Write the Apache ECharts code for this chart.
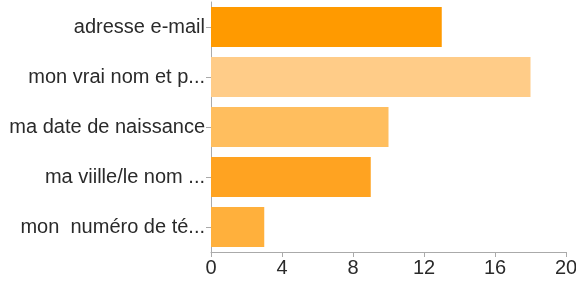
<!DOCTYPE html>
<html lang="en">
<head>
    <meta charset="UTF-8">
    <title>Informations partagées</title>
    <script src="https://cdn.jsdelivr.net/npm/echarts@6.0.0/dist/echarts.min.js"></script>
    <style>
        * { margin: 0; padding: 0; box-sizing: border-box; }
        body { background: #fff; }
        #chart { width: 576px; height: 282px; }
    </style>
</head>
<body>
    <div id="chart"></div>
    <script>
        // categories top to bottom
        const categories = [
            'adresse e-mail',
            'mon vrai nom et p...',
            'ma date de naissance',
            'ma viille/le nom ...',
            'mon  numéro de té...'
        ];
        const counts = [13, 18, 10, 9, 3];
        const barColors = ['#ff9a00', '#ffcc88', '#ffbe5e', '#ffa321', '#ffb03c'];

        const chart = echarts.init(document.getElementById('chart'));

        chart.setOption({
            animation: false,
            grid: { left: 211, right: 10, top: 2, bottom: 30, containLabel: false, outerBoundsMode: 'none' },
            xAxis: {
                type: 'value',
                min: 0,
                max: 20,
                interval: 4,
                splitLine: { show: false },
                axisLine: { show: true, lineStyle: { color: '#aaa' } },
                axisTick: { show: true, length: 5, lineStyle: { color: '#aaa' } },
                axisLabel: { color: '#2a2a2a', fontSize: 20, fontFamily: 'Liberation Sans', margin: 6 }
            },
            yAxis: {
                type: 'category',
                inverse: true,
                data: categories,
                axisLine: { show: true, lineStyle: { color: '#aaa' } },
                axisTick: { show: true, length: 5, alignWithLabel: true, lineStyle: { color: '#aaa' } },
                axisLabel: { color: '#2a2a2a', fontSize: 20, fontFamily: 'Liberation Sans', margin: 6 }
            },
            series: [{
                type: 'bar',
                barCategoryGap: '20%',
                data: counts.map((v, i) => ({ value: v, itemStyle: { color: barColors[i] } }))
            }]
        });
    </script>
</body>
</html>
